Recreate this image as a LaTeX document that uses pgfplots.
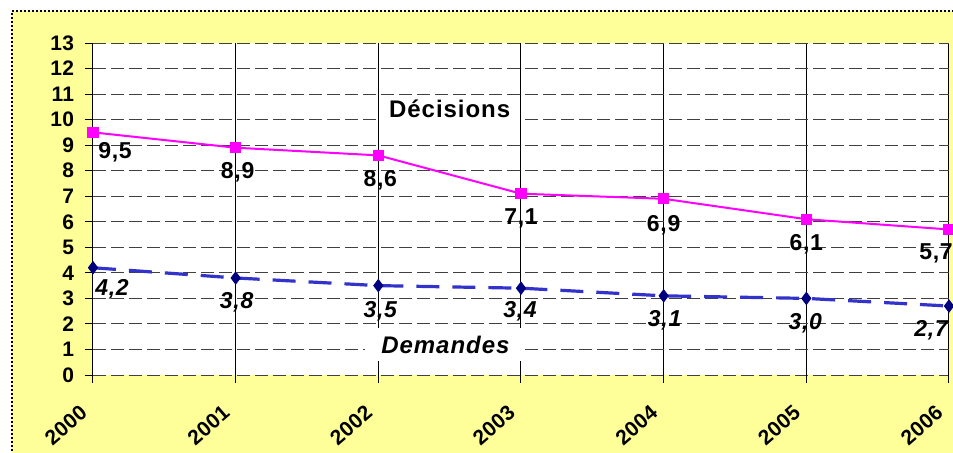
\documentclass[border=0pt]{standalone}
\usepackage{fontspec}
\setmainfont{Liberation Sans}
\newfontfamily\tickfont[LetterSpace=1]{Liberation Sans}
\newfontfamily\labfont[LetterSpace=3]{Liberation Sans}
\newfontfamily\namefont[LetterSpace=4]{Liberation Sans}
\usepackage{pgfplots}
\usepackage{pgfplotstable}
\pgfplotsset{compat=1.18}

\definecolor{bgyellow}{HTML}{FFFF99}
\definecolor{decis}{HTML}{FF00FF}
\definecolor{demline}{HTML}{3333CC}
\definecolor{demmark}{HTML}{000080}

% year, value, label offsets (pt), label text
\pgfplotstableread{
year val dx dy lab
2000 9.5 11 -10 9,5
2001 8.9 1 -12.5 8,9
2002 8.6 1 -12.5 8,6
2003 7.1 0 -12.5 7,1
2004 6.9 0 -13 6,9
2005 6.1 0 -12.5 6,1
2006 5.7 -6.5 -12 5,7
}\decisions

\pgfplotstableread{
year val dx dy lab
2000 4.2 9.5 -11 4,2
2001 3.8 0.5 -12 3,8
2002 3.5 1 -13 3,5
2003 3.4 -0.5 -11.5 3,4
2004 3.1 0.5 -12 3,1
2005 3.0 -0.5 -12.5 3,0
2006 2.7 -9 -12 2,7
}\demandes

\begin{document}
\begin{tikzpicture}
\useasboundingbox (-46.5pt,-38.5pt) rectangle (430pt,187.5pt);
\fill[bgyellow] (-40.5pt,182pt) rectangle (450pt,-60pt);
\draw[black, line width=1pt, dash pattern=on 1pt off 1pt] (-40.5pt,-60pt) -- (-40.5pt,182pt) -- (450pt,182pt);
\begin{axis}[
    scale only axis,
    width=428pt, height=166pt,
    xmin=2000, xmax=2006,
    ymin=0, ymax=13,
    xtick={2000,...,2006},
    ytick={0,...,13},
    axis background/.style={fill=white},
    axis line style={draw=none},
    xmajorgrids, ymajorgrids,
    major x grid style={black, line width=0.5pt, solid},
    major y grid style={black!75, line width=0.5pt, dash pattern=on 6.5pt off 2.5pt},
    xtick pos=left, ytick pos=left,
    tick align=outside,
    major tick length=4pt,
    tick style={black, line width=0.5pt},
    /pgf/number format/assume math mode=true,
    /pgf/number format/1000 sep={},
    yticklabel style={font=\tickfont\bfseries\fontsize{10.5}{12}\selectfont, xshift=-2pt},
    xticklabel style={font=\tickfont\bfseries\fontsize{10.5}{12}\selectfont,
        xshift=-2pt, yshift=-11pt, rotate=41, anchor=east},
    clip=false,
]
\addplot[decis, line width=1pt, mark=square*, mark size=2.3pt,
    mark options={solid, fill=decis},
    nodes near coords, point meta=explicit symbolic,
    visualization depends on={\thisrow{dx} \as \dx},
    visualization depends on={\thisrow{dy} \as \dy},
    every node near coord/.append style={black, anchor=center,
        xshift=\dx pt, yshift=\dy pt,
        font=\labfont\bfseries\fontsize{11.5}{13}\selectfont}]
    table[x=year, y=val, meta=lab] {\decisions};

\addplot[demline, line width=1.6pt, dash pattern=on 11.5pt off 6.5pt,
    mark=diamond*, mark size=3pt,
    mark options={solid, fill=demmark, draw=demmark, line width=0.5pt},
    nodes near coords, point meta=explicit symbolic,
    visualization depends on={\thisrow{dx} \as \dx},
    visualization depends on={\thisrow{dy} \as \dy},
    every node near coord/.append style={black, anchor=center,
        xshift=\dx pt, yshift=\dy pt,
        font=\labfont\bfseries\itshape\fontsize{11.5}{13}\selectfont}]
    table[x=year, y=val, meta=lab] {\demandes};

\node[fill=white, inner xsep=5pt, inner ysep=2pt,
    font=\namefont\bfseries\fontsize{12}{14}\selectfont]
    at (axis cs:2002.50,10.43) {Décisions};
\node[fill=white, inner xsep=8pt, inner ysep=4pt,
    font=\namefont\bfseries\itshape\fontsize{12}{14}\selectfont]
    at (axis cs:2002.47,1.19) {Demandes};
\end{axis}
\end{tikzpicture}
\end{document}
